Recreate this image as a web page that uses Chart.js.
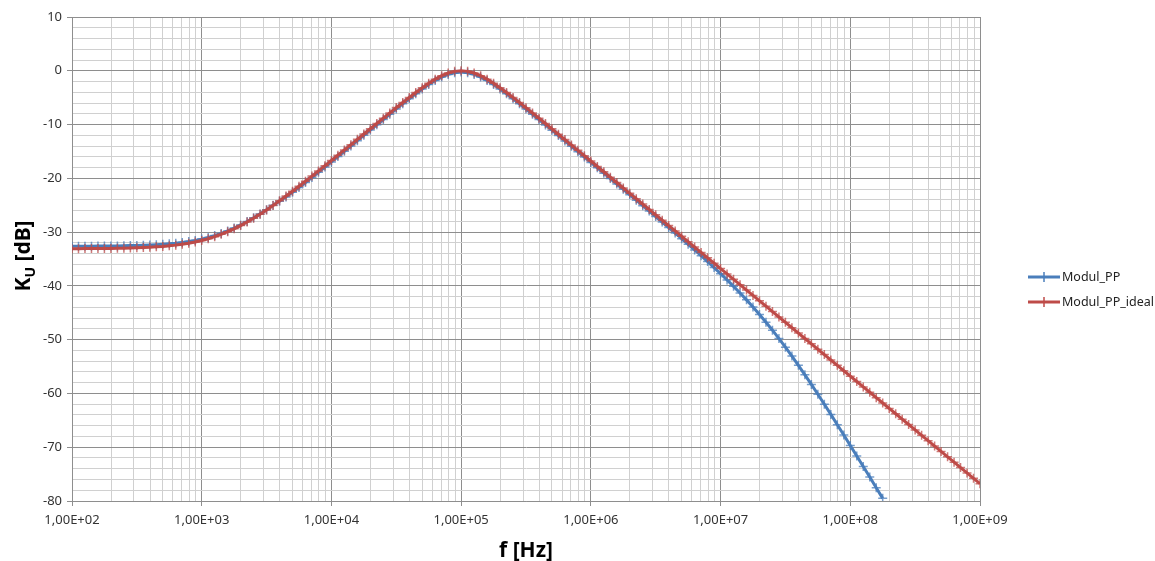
<!DOCTYPE html>
<html>
<head>
<meta charset="utf-8">
<script src="https://cdn.jsdelivr.net/npm/chart.js@4.4.1/dist/chart.umd.min.js"></script>
<style>
  html, body { margin: 0; padding: 0; background: #fff; }
  #wrap { width: 1155px; height: 561px; }
</style>
</head>
<body>
<div id="wrap"><canvas id="chart" width="1155" height="561"></canvas></div>
<script>
// sweep: 20 points per decade, 1e2 .. 1e9
const stepMantissa = [1, 1.122, 1.259, 1.413, 1.585, 1.778, 1.995, 2.239, 2.512, 2.818,
                      3.162, 3.548, 3.981, 4.467, 5.012, 5.623, 6.310, 7.079, 7.943, 8.913];
const decadeExps = [2, 3, 4, 5, 6, 7, 8];
const lastFreq = 1e9;

// grid lines: 1..9 per decade
const gridSteps = [1, 2, 3, 4, 5, 6, 7, 8, 9];
const xTickLabels = ["1,00E+02", "1,00E+03", "1,00E+04", "1,00E+05", "1,00E+06", "1,00E+07", "1,00E+08", "1,00E+09"];

// Modul_PP (measured), dB
const modulPP = [
  -32.63, -32.63, -32.62, -32.61, -32.60, -32.59, -32.58, -32.56, -32.54, -32.51, -32.48,
  -32.45, -32.40, -32.34, -32.27, -32.18, -32.07, -31.92, -31.75, -31.55, -31.30,
  -31.00, -30.65, -30.25, -29.78, -29.25, -28.67, -28.03, -27.34, -26.61, -25.83,
  -25.02, -24.28, -23.45, -22.59, -21.72, -20.78, -19.83, -18.87, -17.90, -16.94,
  -15.95, -14.97, -13.99, -13.00, -12.01, -11.03, -10.04, -9.06, -8.08, -7.10,
  -6.14, -5.20, -4.28, -3.39, -2.56, -1.81, -1.17, -0.67, -0.36, -0.25,
  -0.36, -0.67, -1.17, -1.81, -2.56, -3.39, -4.28, -5.20, -6.15, -7.11,
  -8.09, -9.07, -10.06, -11.05, -12.05, -13.04, -14.04, -15.04, -16.03, -17.04,
  -18.04, -19.04, -20.05, -21.05, -22.05, -23.06, -24.07, -25.08, -26.09, -27.11,
  -28.12, -29.15, -30.18, -31.22, -32.26, -33.32, -34.39, -35.48, -36.59, -37.73,
  -38.89, -40.09, -41.32, -42.60, -43.93, -45.31, -46.75, -48.24, -49.80, -51.40,
  -53.06, -54.77, -56.53, -58.32, -60.15, -62.01, -63.90, -65.81, -67.73, -69.67,
  -71.62, -73.58, -75.55, -77.53, -79.51
];

// Modul_PP_ideal, dB
const modulPPIdeal = [
  -33.08, -33.08, -33.07, -33.06, -33.05, -33.04, -33.03, -33.01, -32.98, -32.95, -32.92,
  -32.87, -32.81, -32.74, -32.66, -32.55, -32.42, -32.25, -32.06, -31.83, -31.55,
  -31.23, -30.85, -30.42, -29.93, -29.38, -28.78, -28.12, -27.41, -26.66, -25.87,
  -25.04, -24.18, -23.30, -22.39, -21.47, -20.53, -19.58, -18.62, -17.65, -16.69,
  -15.70, -14.72, -13.74, -12.75, -11.76, -10.78, -9.79, -8.81, -7.83, -6.85,
  -5.89, -4.95, -4.03, -3.14, -2.31, -1.56, -0.92, -0.42, -0.11, 0.00,
  -0.11, -0.42, -0.92, -1.56, -2.31, -3.14, -4.03, -4.95, -5.90, -6.86,
  -7.84, -8.82, -9.81, -10.80, -11.80, -12.79, -13.79, -14.79, -15.78, -16.78,
  -17.78, -18.78, -19.78, -20.78, -21.78, -22.78, -23.78, -24.78, -25.78, -26.78,
  -27.78, -28.78, -29.78, -30.78, -31.78, -32.78, -33.78, -34.78, -35.78, -36.78,
  -37.78, -38.78, -39.78, -40.78, -41.78, -42.78, -43.78, -44.78, -45.78, -46.78,
  -47.78, -48.78, -49.78, -50.78, -51.78, -52.78, -53.78, -54.78, -55.78, -56.78,
  -57.78, -58.78, -59.78, -60.78, -61.78, -62.78, -63.78, -64.78, -65.78, -66.78,
  -67.78, -68.78, -69.78, -70.78, -71.78, -72.78, -73.78, -74.78, -75.78, -76.78
];

const BLUE = "#4a7ebb";
const RED = "#be4b48";
const FONT = "'Noto Sans', 'Open Sans', sans-serif";

// build frequency table
const freqs = [];
decadeExps.forEach(e => stepMantissa.forEach(m => freqs.push(m * Math.pow(10, e))));
freqs.push(lastFreq);

const toPoints = vals => vals.map((v, i) => ({ x: freqs[i], y: v }));

const gridValues = [];
decadeExps.forEach(e => gridSteps.forEach(s => gridValues.push(s * Math.pow(10, e))));
gridValues.push(lastFreq);

const isDecade = v => Math.abs(Math.log10(v) - Math.round(Math.log10(v))) < 1e-9;

const MAJOR = "#8e8e8e";
const MINOR = "#d0d0d0";

// titles + legend drawn by hand (subscript in y title)
const extras = {
  id: "extras",
  afterDraw(chart) {
    const c = chart.ctx;
    c.save();
    c.fillStyle = "#000";

    // x title
    c.font = "bold 21px " + FONT;
    c.textAlign = "center";
    c.textBaseline = "alphabetic";
    c.fillText("f [Hz]", 526, 557);

    // y title: K_U [dB]
    c.translate(24, 256);
    c.rotate(-Math.PI / 2);
    const big = "bold 21px " + FONT, small = "bold 14px " + FONT;
    c.font = big; const wK = c.measureText("K").width;
    c.font = small; const wU = c.measureText("U").width;
    c.font = big; const wRest = c.measureText(" [dB]").width;
    let x0 = -(wK + wU + wRest) / 2;
    c.textAlign = "left";
    c.textBaseline = "middle";
    c.font = big; c.fillText("K", x0, 0);
    c.font = small; c.fillText("U", x0 + wK, 7);
    c.font = big; c.fillText(" [dB]", x0 + wK + wU, 0);
    c.restore();

    // legend
    const items = [
      { label: "Modul_PP", color: BLUE, y: 277 },
      { label: "Modul_PP_ideal", color: RED, y: 302 }
    ];
    c.save();
    items.forEach(it => {
      c.strokeStyle = it.color;
      c.lineWidth = 3;
      c.beginPath(); c.moveTo(1028, it.y); c.lineTo(1060, it.y); c.stroke();
      c.lineWidth = 1.5;
      c.beginPath(); c.moveTo(1044, it.y - 5); c.lineTo(1044, it.y + 5); c.stroke();
      c.fillStyle = "#222";
      c.font = "12.5px " + FONT;
      c.textAlign = "left";
      c.textBaseline = "middle";
      c.fillText(it.label, 1062, it.y);
    });
    c.restore();
  }
};

new Chart(document.getElementById("chart"), {
  type: "line",
  data: {
    datasets: [
      {
        label: "Modul_PP",
        data: toPoints(modulPP),
        borderColor: BLUE,
        backgroundColor: BLUE,
        borderWidth: 3,
        pointStyle: "cross",
        pointRadius: 4.5,
        pointBorderWidth: 1.5,
        pointBorderColor: "rgba(74,126,187,0.75)",
        tension: 0,
        order: 1
      },
      {
        label: "Modul_PP_ideal",
        data: toPoints(modulPPIdeal),
        borderColor: RED,
        backgroundColor: RED,
        borderWidth: 3,
        pointStyle: "cross",
        pointRadius: 4.5,
        pointBorderWidth: 1.5,
        pointBorderColor: "rgba(190,75,72,0.75)",
        tension: 0,
        order: 0
      }
    ]
  },
  options: {
    responsive: false,
    animation: false,
    devicePixelRatio: 1,
    layout: { padding: { left: 0, right: 175, top: 17, bottom: 0 } },
    plugins: {
      legend: { display: false },
      tooltip: { enabled: false }
    },
    scales: {
      x: {
        type: "logarithmic",
        min: 100,
        max: 1e9,
        afterBuildTicks: scale => { scale.ticks = gridValues.map(v => ({ value: v, major: isDecade(v) })); },
        afterFit: scale => { scale.height = 60; },
        ticks: {
          autoSkip: false,
          maxRotation: 0,
          minRotation: 0,
          padding: 6,
          color: "#333",
          font: { family: FONT, size: 13 },
          callback: v => isDecade(v) ? xTickLabels[Math.round(Math.log10(v)) - 2] : ""
        },
        grid: {
          color: ctx => (ctx.tick && isDecade(ctx.tick.value)) ? MAJOR : MINOR,
          lineWidth: 1,
          tickLength: 5,
          tickColor: ctx => (ctx.tick && isDecade(ctx.tick.value)) ? MAJOR : "rgba(0,0,0,0)"
        },
        border: { display: true, color: MAJOR }
      },
      y: {
        type: "linear",
        min: -80,
        max: 10,
        afterFit: scale => { scale.width = 72; },
        ticks: {
          stepSize: 2,
          autoSkip: false,
          padding: 5,
          color: "#333",
          font: { family: FONT, size: 13 },
          callback: v => (v % 10 === 0) ? String(v) : ""
        },
        grid: {
          color: ctx => (ctx.tick && ctx.tick.value % 10 === 0) ? MAJOR : MINOR,
          lineWidth: 1,
          tickLength: 5,
          tickColor: ctx => (ctx.tick && ctx.tick.value % 10 === 0) ? MAJOR : "rgba(0,0,0,0)"
        },
        border: { display: true, color: MAJOR }
      }
    }
  },
  plugins: [extras]
});
</script>
</body>
</html>
